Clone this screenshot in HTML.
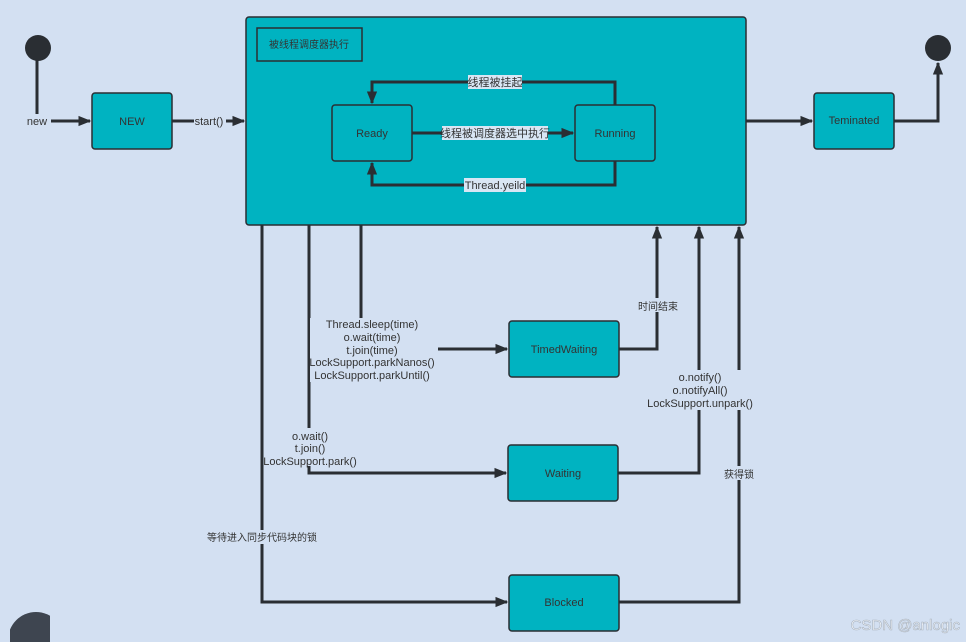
<!DOCTYPE html>
<html><head><meta charset="utf-8"><style>
html,body{margin:0;padding:0;background:#d3e0f2;}
svg{display:block;}
text{font-family:"Liberation Sans","Noto Sans CJK SC",sans-serif;font-size:11px;fill:#333;}
.n{fill:#00b3c1;stroke:#2a2e33;stroke-width:1.5;}
.l{stroke:#2a2e33;stroke-width:3;fill:none;}
</style></head><body>
<svg width="966" height="642" viewBox="0 0 966 642">
<defs>
<marker id="b" viewBox="0 0 10 10" markerWidth="13" markerHeight="13" refX="9" refY="5" orient="auto" markerUnits="userSpaceOnUse">
<path d="M0,1 L10,5 L0,9 z" fill="#2a2e33"/></marker>
</defs>
<rect width="966" height="642" fill="#d3e0f2"/>
<circle cx="38" cy="48" r="13" fill="#2a2e33"/>
<circle cx="938" cy="48" r="13" fill="#2a2e33"/>
<clipPath id="c"><rect x="10" y="600" width="40" height="42"/></clipPath>
<circle cx="36" cy="640" r="28" fill="#3e4550" clip-path="url(#c)"/>

<path class="l" d="M37,60 V121 H90" marker-end="url(#b)"/>
<path class="l" d="M172,121 H244" marker-end="url(#b)"/>
<path class="l" d="M746,121 H812" marker-end="url(#b)"/>
<path class="l" d="M894,121 H938 V63" marker-end="url(#b)"/>

<rect class="n" x="246" y="17" width="500" height="208" rx="3"/>
<rect x="257" y="28" width="105" height="33" fill="none" stroke="#2a2e33" stroke-width="1.5"/>
<text x="309" y="48" text-anchor="middle" style="font-size:10px">被线程调度器执行</text>

<path class="l" d="M615,105 V82 H372 V103" marker-end="url(#b)"/>
<path class="l" d="M412,133 H573" marker-end="url(#b)"/>
<path class="l" d="M615,161 V185 H372 V163" marker-end="url(#b)"/>
<rect class="n" x="332" y="105" width="80" height="56" rx="3"/>
<rect class="n" x="575" y="105" width="80" height="56" rx="3"/>
<text x="372" y="137" text-anchor="middle">Ready</text>
<text x="615" y="137" text-anchor="middle">Running</text>
<rect x="468" y="75" width="54" height="14" fill="#d9e6f4"/>
<text x="495" y="86" text-anchor="middle">线程被挂起</text>
<rect x="442" y="126" width="106" height="14" fill="#d9e6f4"/>
<text x="495" y="137" text-anchor="middle">线程被调度器选中执行</text>
<rect x="464" y="178" width="62" height="14" fill="#d9e6f4"/>
<text x="495" y="189" text-anchor="middle">Thread.yeild</text>

<rect class="n" x="92" y="93" width="80" height="56" rx="3"/>
<text x="132" y="125" text-anchor="middle">NEW</text>
<rect x="23" y="114" width="28" height="14" fill="#d3e0f2"/>
<text x="37" y="125" text-anchor="middle">new</text>
<rect x="194" y="114" width="32" height="14" fill="#d3e0f2"/>
<text x="209" y="125" text-anchor="middle">start()</text>
<rect class="n" x="814" y="93" width="80" height="56" rx="3"/>
<text x="854" y="124" text-anchor="middle">Teminated</text>

<path class="l" d="M262,225 V602 H507" marker-end="url(#b)"/>
<path class="l" d="M309,225 V473 H506" marker-end="url(#b)"/>
<path class="l" d="M361,225 V318"/>
<path class="l" d="M437,349 H507" marker-end="url(#b)"/>
<path class="l" d="M619,349 H657 V227" marker-end="url(#b)"/>
<path class="l" d="M618,473 H699 V227" marker-end="url(#b)"/>
<path class="l" d="M619,602 H739 V227" marker-end="url(#b)"/>

<rect class="n" x="509" y="321" width="110" height="56" rx="3"/>
<text x="564" y="353" text-anchor="middle">TimedWaiting</text>
<rect class="n" x="508" y="445" width="110" height="56" rx="3"/>
<text x="563" y="477" text-anchor="middle">Waiting</text>
<rect class="n" x="509" y="575" width="110" height="56" rx="3"/>
<text x="564" y="606" text-anchor="middle">Blocked</text>

<rect x="310" y="318" width="128" height="64" fill="#d3e0f2"/>
<text x="372" y="328" text-anchor="middle">Thread.sleep(time)</text>
<text x="372" y="341" text-anchor="middle">o.wait(time)</text>
<text x="372" y="354" text-anchor="middle">t.join(time)</text>
<text x="372" y="366" text-anchor="middle">LockSupport.parkNanos()</text>
<text x="372" y="379" text-anchor="middle">LockSupport.parkUntil()</text>

<rect x="265" y="428" width="94" height="38" fill="#d3e0f2"/>
<text x="310" y="440" text-anchor="middle">o.wait()</text>
<text x="310" y="452" text-anchor="middle">t.join()</text>
<text x="310" y="465" text-anchor="middle">LockSupport.park()</text>

<rect x="636" y="298" width="44" height="14" fill="#d3e0f2"/>
<text x="658" y="310" text-anchor="middle" style="font-size:10px">时间结束</text>
<rect x="645" y="370" width="108" height="40" fill="#d3e0f2"/>
<text x="700" y="381" text-anchor="middle">o.notify()</text>
<text x="700" y="394" text-anchor="middle">o.notifyAll()</text>
<text x="700" y="407" text-anchor="middle">LockSupport.unpark()</text>
<rect x="722" y="466" width="34" height="14" fill="#d3e0f2"/>
<text x="739" y="478" text-anchor="middle" style="font-size:10px">获得锁</text>
<rect x="204" y="530" width="116" height="14" fill="#d3e0f2"/>
<text x="262" y="541" text-anchor="middle" style="font-size:10px">等待进入同步代码块的锁</text>

<text x="960" y="630" text-anchor="end" style="font-size:15px;fill:#f4f7fb;stroke:#a9b3bf;stroke-width:0.6">CSDN @anlogic</text>
</svg>
</body></html>
